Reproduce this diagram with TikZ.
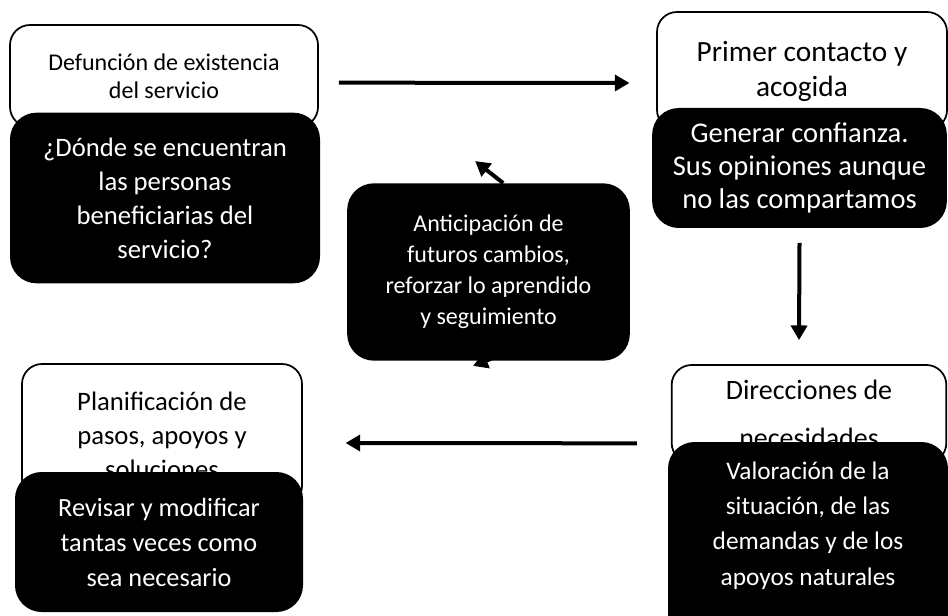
\documentclass[tikz,border=0pt]{standalone}
\usepackage{fontspec}
\setmainfont{Carlito}
\usepackage{tikz}
\usetikzlibrary{arrows.meta, calc, backgrounds}
\tikzstyle{arrow} = [line width=3pt,->,>={Triangle[length=11pt,width=12pt]}]
\tikzstyle{titulo} = [draw, line width=1.3pt, fill=white, rounded corners=15pt, align=center]
\tikzstyle{detalle} = [fill=black, text=white, rounded corners=20pt, align=center]

\begin{document}
\begin{tikzpicture}[x=0.75pt,y=-0.75pt]
        \useasboundingbox (0,0) rectangle (948,616);
        \node (def)[titulo,
            minimum width=231pt,
            minimum height=76.5pt,
            font=\fontsize{18}{21}\selectfont] at (164,76) {Defunción de existencia\\del servicio};
        \node (def2)[detalle,
            minimum width=232.5pt,
            minimum height=128pt,
            font=\fontsize{20}{25.5}\selectfont] at (165,198) {¿Dónde se encuentran\\las personas\\beneficiarias del\\servicio?};
        \node (prim)[titulo,
            minimum width=217.5pt,
            minimum height=88.5pt,
            font=\fontsize{22}{26.25}\selectfont] at (802,71) {Primer contacto y\\acogida};
        \node (prim2)[detalle,
            minimum width=221pt,
            minimum height=90pt,
            font=\fontsize{21.4}{24.75}\selectfont] at (799.5,168) {Generar confianza.\\Sus opiniones aunque\\no las compartamos};
        \node (ant)[detalle,
            minimum width=212pt,
            minimum height=133pt,
            font=\fontsize{18}{23.25}\selectfont] at (488.5,272) {Anticipación de\\futuros cambios,\\reforzar lo aprendido\\y seguimiento};
        \node (plan)[titulo,
            minimum width=210pt,
            minimum height=106.5pt,
            font=\fontsize{20}{25.5}\selectfont] at (162,435) {Planificación de\\pasos, apoyos y\\soluciones};
        \node (plan2)[detalle,
            minimum width=216pt,
            minimum height=105pt,
            font=\fontsize{19.7}{26.25}\selectfont] at (159,542) {Revisar y modificar\\tantas veces como\\sea necesario};
        \node (dir)[titulo,
            minimum width=206pt,
            minimum height=73.5pt,
            font=\fontsize{21}{36}\selectfont] at (809,414) {Direcciones de\\necesidades};
        % runs off the bottom of the page
        \node (dir2)[detalle,
            minimum width=210pt,
            minimum height=148.5pt,
            font=\fontsize{19}{26.5}\selectfont] at (808,541) {Valoración de la\\situación, de las\\demandas y de los\\apoyos naturales\\\mbox{}};
        \draw [arrow] ($(def.east)+(15pt,-5pt)$) -- ($(prim.west)+(-20pt,-9pt)$);
        \draw [arrow] ($(prim2.south)+(0,-11pt)$) -- ($(dir.north)+(-7.5pt,18pt)$);
        \draw [arrow] ($(dir.west)+(-25.5pt,-22pt)$) -- ($(plan.east)+(32pt,-6pt)$);
        \begin{scope}[on background layer]
        \draw [arrow] ($(ant.north)+(11pt,0)$) -- ($(ant.north)+(-10pt,16.5pt)$);
        \draw [arrow] ($(ant.south)+(20pt,9pt)$) -- ($(ant.south)+(-11.6pt,-3.75pt)$);
        \end{scope}
    \end{tikzpicture}
\end{document}
